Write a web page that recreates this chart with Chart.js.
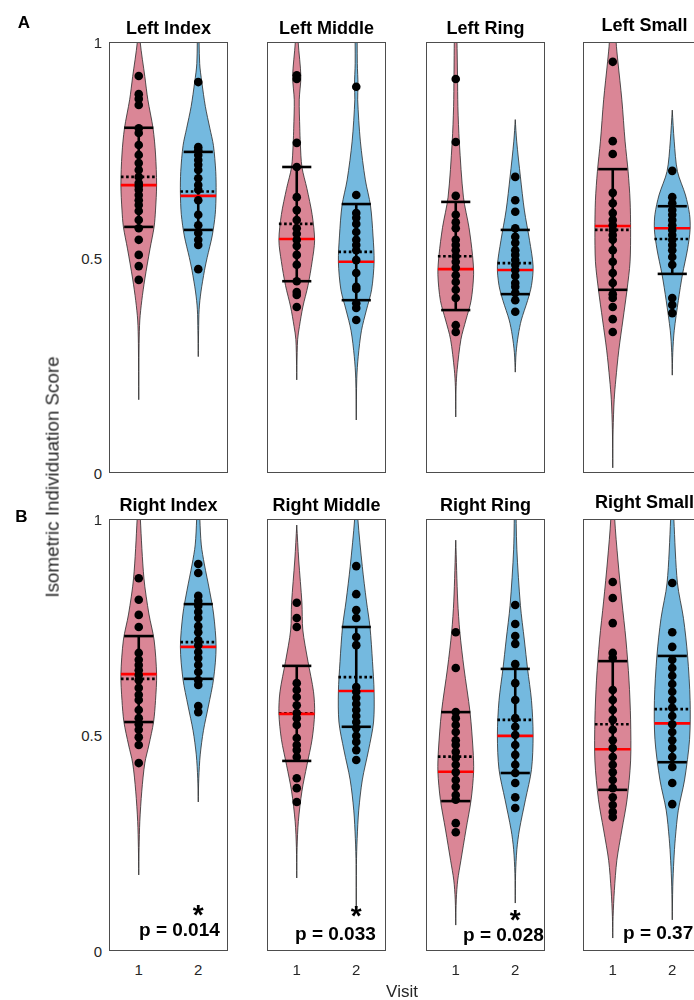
<!DOCTYPE html>
<html><head><meta charset="utf-8">
<script src="https://cdn.jsdelivr.net/npm/chart.js@4.4.1/dist/chart.umd.min.js"></script>
<style>
html,body{margin:0;padding:0;background:#fff;width:694px;height:1000px;overflow:hidden;position:relative;font-family:Arial,"Liberation Sans",sans-serif}
canvas{position:absolute}
.t{position:absolute;white-space:nowrap;line-height:1}
</style></head><body>
<script>
// ---------- DATA ----------
const panelTitles = ['Left Index','Left Middle','Left Ring','Left Small','Right Index','Right Middle','Right Ring','Right Small'];
const visits = [1, 2];
const yTicks = [0, 0.5, 1];
const yTickLabels = ['0', '0.5', '1'];
const pValues = ['', '', '', '', 'p = 0.014', 'p = 0.033', 'p = 0.028', 'p = 0.37'];
const significant = [false, false, false, false, true, true, true, false];

// stats: [mean-SD, median, mean, mean+SD]; profile: [value, relative density]
const LI1_dots = [0.921,0.879,0.868,0.854,0.800,0.789,0.761,0.738,0.719,0.703,0.687,0.673,0.666,0.657,0.645,0.633,0.622,0.608,0.587,0.568,0.541,0.506,0.480,0.448];
const LI1_stats = [0.571, 0.668, 0.687, 0.801];
const LI1_prof = [[1.05,0.03],[1.0,0.08],[0.92,0.34],[0.866,0.51],[0.80,0.8],[0.74,0.94],[0.668,1.0],[0.61,0.94],[0.571,0.86],[0.52,0.63],[0.45,0.34],[0.40,0.17],[0.355,0.06],[0.30,0.02],[0.17,0]];
const LI2_dots = [0.907,0.756,0.749,0.738,0.726,0.715,0.703,0.684,0.668,0.657,0.633,0.599,0.575,0.557,0.541,0.529,0.473];
const LI2_stats = [0.564, 0.643, 0.653, 0.745];
const LI2_prof = [[1.05,0.03],[0.95,0.08],[0.907,0.2],[0.85,0.4],[0.80,0.65],[0.76,0.85],[0.70,0.98],[0.65,1.0],[0.60,0.95],[0.55,0.78],[0.50,0.5],[0.47,0.35],[0.42,0.15],[0.38,0.05],[0.33,0.02],[0.27,0]];

const LM1_dots = [0.923,0.914,0.766,0.710,0.640,0.610,0.587,0.568,0.555,0.541,0.527,0.506,0.483,0.445,0.420,0.413,0.385];
const LM1_stats = [0.445, 0.543, 0.578, 0.710];
const LM1_prof = [[1.05,0.05],[1.0,0.08],[0.92,0.23],[0.866,0.14],[0.80,0.17],[0.765,0.2],[0.71,0.29],[0.66,0.57],[0.60,0.86],[0.54,1.0],[0.49,0.86],[0.435,0.63],[0.385,0.34],[0.34,0.15],[0.31,0.05],[0.25,0.01],[0.216,0]];
const LM2_dots = [0.896,0.645,0.603,0.592,0.578,0.559,0.541,0.529,0.517,0.494,0.464,0.432,0.427,0.394,0.383,0.355];
const LM2_stats = [0.401, 0.490, 0.513, 0.624];
const LM2_prof = [[1.05,0.05],[0.95,0.06],[0.9,0.1],[0.866,0.08],[0.77,0.23],[0.68,0.51],[0.62,0.8],[0.55,0.94],[0.49,1.0],[0.425,0.86],[0.378,0.57],[0.33,0.29],[0.27,0.11],[0.22,0.03],[0.123,0]];

const LR1_dots = [0.914,0.768,0.643,0.599,0.582,0.568,0.541,0.529,0.517,0.503,0.490,0.476,0.459,0.443,0.425,0.406,0.343,0.327];
const LR1_stats = [0.378, 0.473, 0.503, 0.629];
const LR1_prof = [[1.05,0.05],[0.92,0.1],[0.85,0.12],[0.768,0.2],[0.64,0.43],[0.57,0.74],[0.505,0.94],[0.46,1.0],[0.40,0.86],[0.355,0.57],[0.31,0.29],[0.24,0.08],[0.2,0.02],[0.13,0]];
const LR2_dots = [0.687,0.633,0.606,0.568,0.548,0.534,0.517,0.506,0.494,0.483,0.471,0.457,0.441,0.432,0.418,0.401,0.374];
const LR2_stats = [0.415, 0.471, 0.487, 0.564];
const LR2_prof = [[0.82,0],[0.77,0.08],[0.687,0.29],[0.61,0.51],[0.54,0.8],[0.48,1.0],[0.435,0.91],[0.40,0.69],[0.355,0.34],[0.32,0.17],[0.28,0.05],[0.234,0]];

const LS1_dots = [0.954,0.770,0.740,0.650,0.626,0.603,0.587,0.575,0.564,0.552,0.541,0.517,0.490,0.464,0.441,0.415,0.406,0.385,0.357,0.327];
const LS1_stats = [0.425, 0.573, 0.564, 0.705];
const LS1_prof = [[1.05,0.17],[1.0,0.19],[0.954,0.29],[0.866,0.51],[0.77,0.69],[0.70,0.86],[0.633,0.97],[0.565,1.0],[0.49,0.97],[0.425,0.8],[0.355,0.57],[0.285,0.34],[0.216,0.17],[0.17,0.08],[0.1,0.02],[0.012,0]];
const LS2_dots = [0.701,0.640,0.626,0.610,0.599,0.587,0.575,0.564,0.552,0.541,0.529,0.517,0.501,0.483,0.406,0.390,0.371];
const LS2_stats = [0.462, 0.568, 0.543, 0.619];
const LS2_prof = [[0.842,0],[0.77,0.11],[0.70,0.29],[0.645,0.74],[0.60,0.97],[0.565,1.0],[0.52,0.86],[0.46,0.57],[0.40,0.34],[0.33,0.11],[0.28,0.03],[0.227,0]];

const RI1_dots = [0.863,0.813,0.778,0.750,0.690,0.674,0.662,0.650,0.639,0.627,0.609,0.593,0.581,0.558,0.539,0.525,0.512,0.495,0.477,0.435];
const RI1_stats = [0.530, 0.641, 0.630, 0.729];
const RI1_prof = [[1.05,0.06],[1.0,0.09],[0.863,0.29],[0.78,0.57],[0.72,0.86],[0.64,1.0],[0.58,0.94],[0.53,0.83],[0.477,0.57],[0.435,0.34],[0.37,0.17],[0.3,0.06],[0.24,0.02],[0.176,0]];
const RI2_dots = [0.896,0.875,0.822,0.810,0.799,0.785,0.771,0.752,0.738,0.720,0.708,0.692,0.678,0.662,0.646,0.627,0.616,0.567,0.553];
const RI2_stats = [0.630, 0.704, 0.715, 0.803];
const RI2_prof = [[1.05,0.06],[1.0,0.09],[0.94,0.17],[0.896,0.34],[0.835,0.63],[0.78,0.86],[0.704,1.0],[0.63,0.86],[0.567,0.57],[0.51,0.29],[0.454,0.11],[0.4,0.03],[0.345,0]];

const RM1_dots = [0.806,0.771,0.750,0.620,0.604,0.588,0.569,0.551,0.539,0.523,0.493,0.477,0.465,0.449,0.400,0.377,0.345];
const RM1_stats = [0.440, 0.549, 0.550, 0.660];
const RM1_prof = [[0.986,0],[0.905,0.11],[0.806,0.29],[0.743,0.34],[0.67,0.63],[0.6,0.94],[0.55,1.0],[0.49,0.86],[0.43,0.57],[0.37,0.29],[0.3,0.09],[0.24,0.02],[0.169,0]];
const RM2_dots = [0.891,0.826,0.789,0.771,0.727,0.708,0.611,0.600,0.586,0.572,0.558,0.544,0.530,0.516,0.498,0.484,0.465,0.442];
const RM2_stats = [0.519, 0.602, 0.634, 0.750];
const RM2_prof = [[1.05,0.06],[1.0,0.09],[0.89,0.34],[0.81,0.57],[0.75,0.77],[0.67,0.91],[0.6,1.0],[0.53,0.97],[0.465,0.69],[0.396,0.34],[0.326,0.14],[0.26,0.05],[0.2,0.01],[0.095,0]];

const RR1_dots = [0.738,0.655,0.553,0.539,0.523,0.507,0.488,0.477,0.461,0.447,0.431,0.414,0.396,0.380,0.361,0.350,0.296,0.275];
const RR1_stats = [0.347, 0.415, 0.450, 0.553];
const RR1_prof = [[0.951,0],[0.81,0.11],[0.738,0.23],[0.655,0.46],[0.553,0.8],[0.465,0.97],[0.415,1.0],[0.35,0.86],[0.28,0.57],[0.21,0.29],[0.164,0.11],[0.12,0.03],[0.06,0]];
const RR2_dots = [0.801,0.757,0.729,0.711,0.664,0.620,0.581,0.539,0.519,0.500,0.477,0.454,0.431,0.412,0.389,0.356,0.331];
const RR2_stats = [0.412, 0.498, 0.535, 0.653];
const RR2_prof = [[1.05,0.03],[0.93,0.09],[0.8,0.29],[0.72,0.51],[0.653,0.69],[0.58,0.91],[0.5,1.0],[0.42,0.91],[0.35,0.57],[0.28,0.23],[0.235,0.09],[0.18,0.02],[0.111,0]];

const RS1_dots = [0.854,0.817,0.759,0.690,0.678,0.604,0.581,0.558,0.535,0.512,0.488,0.470,0.449,0.431,0.414,0.396,0.377,0.356,0.338,0.322,0.310];
const RS1_stats = [0.373, 0.467, 0.525, 0.671];
const RS1_prof = [[1.05,0.1],[1.0,0.11],[0.905,0.29],[0.81,0.51],[0.72,0.74],[0.627,0.91],[0.535,1.0],[0.44,1.0],[0.35,0.8],[0.28,0.51],[0.21,0.23],[0.14,0.09],[0.08,0.02],[0.03,0]];
const RS2_dots = [0.852,0.738,0.704,0.674,0.655,0.637,0.618,0.600,0.581,0.563,0.544,0.525,0.507,0.488,0.470,0.449,0.426,0.389,0.340];
const RS2_stats = [0.437, 0.527, 0.560, 0.683];
const RS2_prof = [[1.05,0.06],[1.0,0.09],[0.852,0.29],[0.77,0.63],[0.683,0.86],[0.58,1.0],[0.49,0.97],[0.396,0.69],[0.326,0.34],[0.26,0.17],[0.21,0.09],[0.15,0.03],[0.072,0]];

const violins = [
  [[LI1_dots,LI1_stats,LI1_prof],[LI2_dots,LI2_stats,LI2_prof]],
  [[LM1_dots,LM1_stats,LM1_prof],[LM2_dots,LM2_stats,LM2_prof]],
  [[LR1_dots,LR1_stats,LR1_prof],[LR2_dots,LR2_stats,LR2_prof]],
  [[LS1_dots,LS1_stats,LS1_prof],[LS2_dots,LS2_stats,LS2_prof]],
  [[RI1_dots,RI1_stats,RI1_prof],[RI2_dots,RI2_stats,RI2_prof]],
  [[RM1_dots,RM1_stats,RM1_prof],[RM2_dots,RM2_stats,RM2_prof]],
  [[RR1_dots,RR1_stats,RR1_prof],[RR2_dots,RR2_stats,RR2_prof]],
  [[RS1_dots,RS1_stats,RS1_prof],[RS2_dots,RS2_stats,RS2_prof]]
];

// ---------- LAYOUT / STYLE ----------
const boxX = [[109,228],[267,386],[426,545],[583,702]];
const boxY = [[42,473],[519,951]];
const fillCols = ['#DA8696', '#74B9DF'];
const HALF_W = 0.3, SD_W = 0.245;
const PAD = 6;

function addText(txt, x, y, css, tx, ty){
  const d = document.createElement('div');
  d.className = 't';
  d.textContent = txt;
  Object.assign(d.style, css);
  d.style.left = x + 'px'; d.style.top = y + 'px';
  d.style.transform = `translate(${tx}, ${ty})` + (css.rot ? ` rotate(${css.rot})` : '');
  document.body.appendChild(d);
  return d;
}

const framePlugin = {
  id: 'frame',
  afterDatasetsDraw(chart){
    const {ctx, chartArea: a} = chart;
    ctx.save();
    ctx.strokeStyle = '#4d4d4d';
    ctx.lineWidth = 1;
    ctx.strokeRect(Math.round(a.left)+0.5, Math.round(a.top)+0.5, Math.round(a.width)-1, Math.round(a.height)-1);
    ctx.restore();
  }
};

function seg(x1, x2, y1, y2, color, width, dash, order){
  return {type:'line', data:[{x:x1,y:y1},{x:x2,y:y2}], borderColor:color, borderWidth:width,
    borderDash: dash || [], pointRadius:0, fill:false, tension:0, order:order, borderCapStyle:'butt'};
}

const charts = [];
for (let p = 0; p < 8; p++){
  const col = p % 4, row = Math.floor(p / 4);
  const L = boxX[col][0], R = boxX[col][1], T = boxY[row][0], B = boxY[row][1];
  const cv = document.createElement('canvas');
  const W = R - L + 2*PAD, H = B - T + 2*PAD;
  cv.width = W; cv.height = H;
  cv.style.left = (L - PAD) + 'px'; cv.style.top = (T - PAD) + 'px';
  cv.style.width = W + 'px'; cv.style.height = H + 'px';
  document.body.appendChild(cv);

  const datasets = [];
  for (let k = 0; k < 2; k++){
    const c = visits[k];
    const [dots, st, prof] = violins[p][k];
    datasets.push({type:'scatter', data: dots.map(v => ({x:c, y:v})), pointRadius:4.3,
      pointBackgroundColor:'#000', pointBorderWidth:0, order:0});
    datasets.push(seg(c-HALF_W, c+HALF_W, st[1], st[1], '#ff0000', 2.6, null, 1));
    datasets.push(seg(c-HALF_W, c+HALF_W, st[2], st[2], '#000', 2.6, [2.6,2.6], 2));
    datasets.push(seg(c-SD_W, c+SD_W, st[0], st[0], '#000', 2.6, null, 3));
    datasets.push(seg(c-SD_W, c+SD_W, st[3], st[3], '#000', 2.6, null, 3));
    datasets.push(seg(c, c, st[0], st[3], '#000', 2.6, null, 3));
    const right = prof.map(([v,w]) => ({x: c + w*HALF_W, y: v}));
    const left = prof.slice().reverse().map(([v,w]) => ({x: c - w*HALF_W, y: v}));
    datasets.push({type:'line', data: right.concat(left, [right[0]]), borderColor:'#2a2a2a', borderWidth:0.8,
      backgroundColor: fillCols[k], fill:'shape', pointRadius:0, tension:0.3, order:10});
  }

  const chart = new Chart(cv, {
    type:'scatter',
    data:{datasets},
    options:{
      responsive:false, animation:false, devicePixelRatio:1, events:[],
      layout:{padding:PAD},
      plugins:{legend:{display:false}, tooltip:{enabled:false}},
      scales:{
        x:{type:'linear', min:0.5, max:2.5, display:false},
        y:{type:'linear', min:0, max:1, display:false}
      }
    },
    plugins:[framePlugin]
  });
  charts.push(chart);

  // text overlays (positions from the chart's own scales)
  const ox = L - PAD, oy = T - PAD;
  const cx = ox + (chart.chartArea.left + chart.chartArea.right)/2;
  const small = col === 3 ? -3.5 : 0;
  addText(panelTitles[p], cx + (col === 3 ? 2 : 0), oy + chart.chartArea.top - 14 + small,
    {fontSize:'18px', fontWeight:'bold', color:'#000'}, '-50%', '-50%');
  if (col === 0){
    yTicks.forEach((v,i) => addText(yTickLabels[i], L - 7, oy + chart.scales.y.getPixelForValue(v),
      {fontSize:'15px', color:'#262626'}, '-100%', '-50%'));
  }
  if (row === 1){
    visits.forEach(v => addText(String(v), ox + chart.scales.x.getPixelForValue(v), B + 18,
      {fontSize:'15px', color:'#262626'}, '-50%', '-50%'));
    if (pValues[p]){
      const pl = [139, 295, 463, 623][col];
      const py = [929, 933, 934, 932][col];
      addText(pValues[p], pl, py, {fontSize:'19px', fontWeight:'bold', color:'#000'}, '0', '-50%');
    }
    if (significant[p]){
      const ay = [909, 910, 914][col];
      addText('*', ox + chart.scales.x.getPixelForValue(2), ay,
        {fontSize:'28px', fontWeight:'bold', color:'#000'}, '-50%', '-28%');
    }
  }
}

addText('A', 24, 22, {fontSize:'17px', fontWeight:'bold', color:'#000'}, '-50%', '-50%');
addText('B', 21.5, 516, {fontSize:'17px', fontWeight:'bold', color:'#000'}, '-50%', '-50%');
addText('Visit', 402, 991, {fontSize:'17px', color:'#262626'}, '-50%', '-50%');
addText('Isometric Individuation Score', 53, 477, {fontSize:'18.8px', color:'#262626', rot:'-90deg'}, '-50%', '-50%');
</script>
</body></html>
